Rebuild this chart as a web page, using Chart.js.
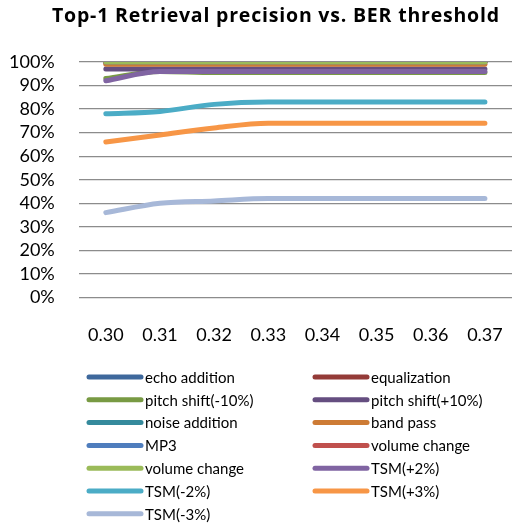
<!DOCTYPE html>
<html>
<head>
<meta charset="utf-8">
<title>Top-1 Retrieval precision vs. BER threshold</title>
<script src="https://cdn.jsdelivr.net/npm/chart.js@4"></script>
<style>
  html, body { margin: 0; padding: 0; background: #fff; }
  #wrap { position: relative; width: 514px; height: 525px; }
</style>
</head>
<body>
<div id="wrap"><canvas id="myChart" width="514" height="525"></canvas></div>
<script>
// BER thresholds on the x axis
const thresholds = ['0.30', '0.31', '0.32', '0.33', '0.34', '0.35', '0.36', '0.37'];

// Top-1 precision (%) per attack
const echoAddition    = [100, 100, 100, 100, 100, 100, 100, 100];
const equalization    = [100, 100, 100, 100, 100, 100, 100, 100];
const pitchMinus10    = [93, 96, 95.5, 95.5, 95.5, 95.5, 95.5, 95.5];
const pitchPlus10     = [97, 97, 97, 97, 97, 97, 97, 97];
const noiseAddition   = [100, 100, 100, 100, 100, 100, 100, 100];
const bandPass        = [99, 99, 99, 99, 99, 99, 99, 99];
const mp3             = [100, 100, 100, 100, 100, 100, 100, 100];
const volumeChangeA   = [100, 100, 100, 100, 100, 100, 100, 100];
const volumeChangeB   = [100, 100, 100, 100, 100, 100, 100, 100];
const tsmPlus2        = [92, 96, 96, 96, 96, 96, 96, 96];
const tsmMinus2       = [78, 79, 82, 83, 83, 83, 83, 83];
const tsmPlus3        = [66, 69, 72, 74, 74, 74, 74, 74];
const tsmMinus3       = [36, 40, 41, 42, 42, 42, 42, 42];

const seriesNames = ['echo addition', 'equalization', 'pitch shift(-10%)', 'pitch shift(+10%)',
  'noise addition', 'band pass', 'MP3', 'volume change', 'volume change',
  'TSM(+2%)', 'TSM(-2%)', 'TSM(+3%)', 'TSM(-3%)'];
const seriesValues = [echoAddition, equalization, pitchMinus10, pitchPlus10,
  noiseAddition, bandPass, mp3, volumeChangeA, volumeChangeB,
  tsmPlus2, tsmMinus2, tsmPlus3, tsmMinus3];
const seriesColors = ['#3e689c', '#943b38', '#789a43', '#654e80',
  '#358a9c', '#cd7b35', '#4f7dbd', '#c0504d', '#9bbb59',
  '#8064a2', '#4bacc6', '#f79646', '#a7b8d8'];

const yTicks = [0, 10, 20, 30, 40, 50, 60, 70, 80, 90, 100];

const FONT = 'Lato, "Open Sans", sans-serif';

// title and two-column legend, drawn on the canvas
const titleAndLegend = {
  id: 'titleAndLegend',
  afterDraw(chart) {
    const c = chart.ctx;
    c.save();
    c.fillStyle = '#000';
    c.font = 'bold 19.5px "Open Sans", sans-serif';
    c.letterSpacing = '0.8px';
    c.textAlign = 'left';
    c.textBaseline = 'alphabetic';
    c.fillText('Top-1 Retrieval precision vs. BER threshold', 52, 22);
    c.letterSpacing = '0px';

    c.font = '15px ' + FONT;
    c.textBaseline = 'middle';
    c.lineCap = 'round';
    c.lineWidth = 5;
    chart.data.datasets.forEach((ds, i) => {
      const col = i % 2;
      const row = Math.floor(i / 2);
      const x = col === 0 ? 89 : 315;
      const y = 377 + row * 22.8;
      c.strokeStyle = ds.borderColor;
      c.beginPath();
      c.moveTo(x, y);
      c.lineTo(x + 52, y);
      c.stroke();
      c.fillStyle = '#000';
      c.fillText(ds.label, x + 56, y + 1);
    });
    c.restore();
  }
};

const ctx = document.getElementById('myChart').getContext('2d');
const myChart = new Chart(ctx, {
  type: 'line',
  data: {
    labels: thresholds,
    datasets: seriesNames.map((name, i) => ({
      label: name,
      data: seriesValues[i],
      borderColor: seriesColors[i],
      backgroundColor: seriesColors[i],
      borderWidth: 5,
      borderCapStyle: 'round',
      borderJoinStyle: 'round',
      pointRadius: 0,
      cubicInterpolationMode: 'monotone',
      fill: false,
      order: -i  // later series on top
    }))
  },
  options: {
    responsive: false,
    animation: false,
    layout: { padding: { top: 62, left: 5, right: 2, bottom: 175 } },
    plugins: {
      legend: { display: false },
      title: { display: false },
      tooltip: { enabled: false }
    },
    scales: {
      x: {
        offset: true,
        // tick marks are invisible; their length sets the gap above the labels
        grid: { display: false, drawTicks: true, tickLength: 23 },
        border: { display: false },
        ticks: { color: '#000', font: { family: FONT, size: 18 }, padding: 4, maxRotation: 0 }
      },
      y: {
        min: 0,
        max: 100,
        afterBuildTicks: (axis) => { axis.ticks = yTicks.map(v => ({ value: v })); },
        grid: { color: '#8c8c8c', lineWidth: 1.3, drawTicks: true, tickLength: 20, tickColor: 'rgba(0,0,0,0)' },
        border: { display: false },
        ticks: {
          color: '#000',
          font: { family: FONT, size: 18 },
          padding: 4,
          autoSkip: false,
          callback: (v) => v + '%'
        }
      }
    }
  },
  plugins: [titleAndLegend]
});
</script>
</body>
</html>
